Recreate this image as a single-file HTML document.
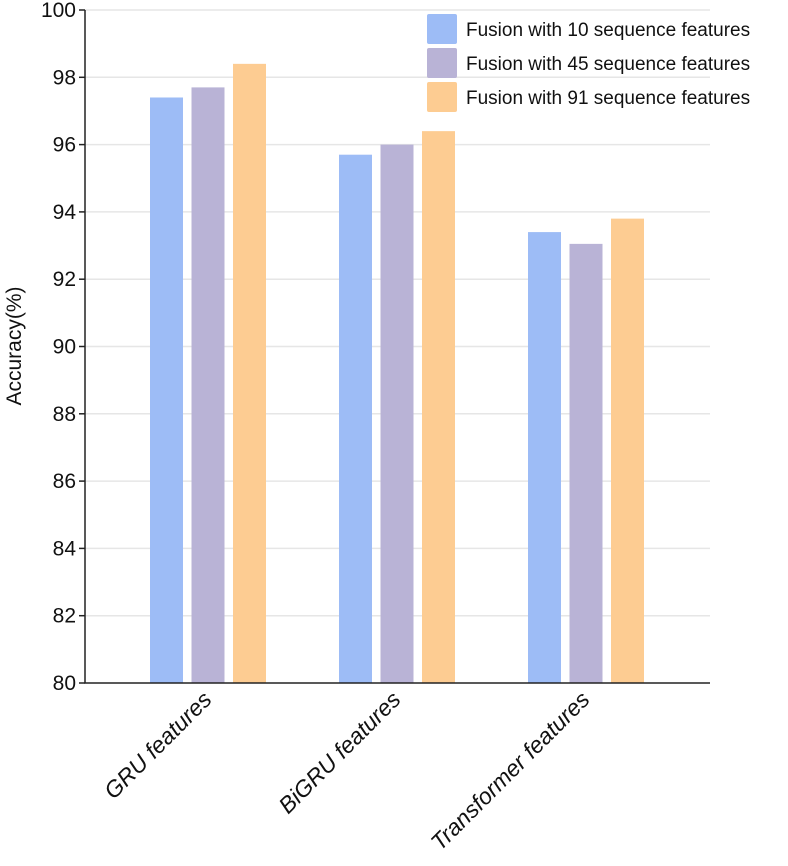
<!DOCTYPE html>
<html><head><meta charset="utf-8"><style>
body{margin:0;background:#fff}
svg text{font-family:"Liberation Sans",Arial,sans-serif;fill:#111}
</style></head><body>
<svg id="chart" width="788" height="861" xmlns="http://www.w3.org/2000/svg"></svg>
<script>
const categories=["GRU features","BiGRU features","Transformer features"];
const seriesNames=["Fusion with 10 sequence features","Fusion with 45 sequence features","Fusion with 91 sequence features"];
const s10=[97.4,95.7,93.4];
const s45=[97.7,96.0,93.05];
const s91=[98.4,96.4,93.8];
const yTicks=[80,82,84,86,88,90,92,94,96,98,100];
const colors=["#9dbcf6","#b9b3d6","#fdcc92"];
const svg=document.getElementById('chart');
const NS="http://www.w3.org/2000/svg";
const L=85,R=710,T=10,B=683,ymin=80,ymax=100;
const y=v=>B-(v-ymin)/(ymax-ymin)*(B-T);
const band=189,x0=113.5;
const xc=i=>x0+band*i+band/2;
function mk(t,a,p){const e=document.createElementNS(NS,t);for(const k in a)e.setAttribute(k,a[k]);(p||svg).appendChild(e);return e;}
yTicks.forEach(t=>{
 if(t>ymin){const g=mk('line',{x1:L,x2:R,y1:y(t),y2:y(t),stroke:'#e6e6e6','stroke-width':1.5});
 
 }
 const tk=mk('line',{x1:L-6,x2:L,y1:y(t),y2:y(t),stroke:'#222','stroke-width':1.5});
 
 
 const lb=mk('text',{x:L-9,y:y(t)+7,'text-anchor':'end','font-size':21});lb.textContent=t;
 
 
});
const series=[s10,s45,s91];
const bw=33,step=41.5;
series.forEach((s,j)=>{
 s.forEach((v,i)=>{
  const cx=xc(i)+(j-1)*step;
  const r=mk('rect',{x:cx-bw/2,y:y(v),width:bw,height:B-y(v),fill:colors[j]});
  
  
 });
});
const ax=mk('path',{d:`M${L} ${T} V${B} H${R}`,fill:'none',stroke:'#222','stroke-width':1.5});


categories.forEach((c,i)=>{
 const tx=xc(i)+5,ty=B+18;
 const t=mk('text',{x:tx,y:ty,'text-anchor':'end','font-size':23,'font-style':'italic',transform:`rotate(-45 ${tx} ${ty})`});
 t.textContent=c;
 
 
});
const yt=mk('text',{x:0,y:0,'text-anchor':'middle','font-size':21,transform:'translate(21 346) rotate(-90)'});
yt.textContent='Accuracy(%)';


seriesNames.forEach((n,j)=>{
 const g=mk('g',{});
 
 
 mk('rect',{x:427,y:14+j*34,width:30,height:30,rx:2,fill:colors[j]},g);
 const t=mk('text',{x:466,y:36+j*34,'font-size':19},g);t.textContent=n;
});
</script>
</body></html>
